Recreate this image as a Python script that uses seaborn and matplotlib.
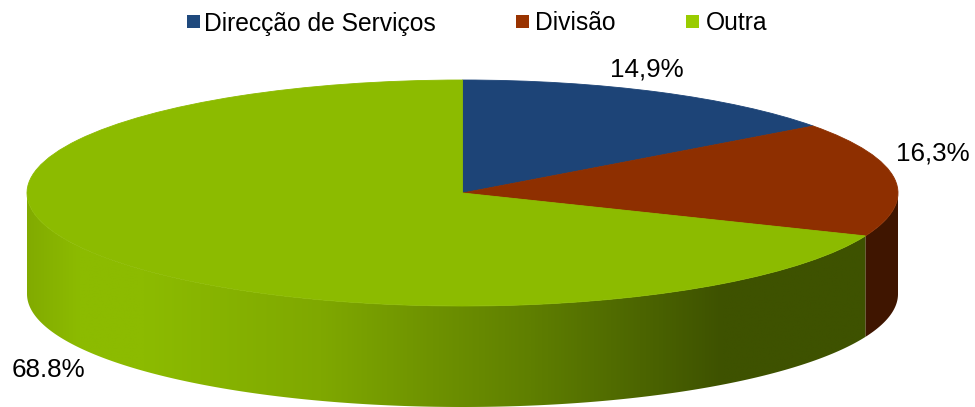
"""3D-looking pie chart: share of posts by type."""

import numpy as np
import matplotlib
matplotlib.use('Agg')
import matplotlib.pyplot as plt
from matplotlib.colors import LinearSegmentedColormap
from matplotlib.patches import Polygon, Rectangle
import seaborn as sns

# data
categories = ['Direcção de Serviços', 'Divisão', 'Outra']
shares = [14.9, 16.3, 68.8]
share_labels = ['14,9%', '16,3%', '68.8%']

# colours
top_colors = ['#1d4477', '#8e2f00', '#8cbb00']
legend_colors = ['#1f497d', '#993300', '#99cc00']
red_wall = '#3f1500'
green_wall = [(0.0, '#82ab00'), (0.06, '#8cbb00'), (0.14, '#8cbb00'),
              (0.35, '#7fa800'), (0.60, '#5f7f00'), (0.83, '#3e5200'), (1.0, '#3e5200')]

W, H = 975, 407
cx, cy, rx, ry, depth = 462.5, 193, 435.5, 113, 101

sns.set_theme(style='white')
plt.rcParams['font.family'] = ['Liberation Sans', 'DejaVu Sans']

fig = plt.figure(figsize=(W / 100, H / 100), dpi=100)
ax = fig.add_axes([0, 0, 1, 1])
ax.axis('off')

# top face
wedges, _ = ax.pie(shares, colors=sns.color_palette(top_colors), startangle=90, counterclock=False,
                   radius=1, wedgeprops={'linewidth': 0.6, 'zorder': 5})
for w in wedges:
    w.set_edgecolor(w.get_facecolor())

# side walls, only the part of the rim facing the viewer (90..270 clockwise from top)
d = depth / ry
edges = np.cumsum([0] + shares) * 3.6


def wall(a, b):
    t = np.radians(np.linspace(a, b, 200))
    x, y = np.sin(t), np.cos(t)
    return np.column_stack([np.r_[x, x[::-1]], np.r_[y, y[::-1] - d]])


red_part = Polygon(wall(max(edges[1], 90), edges[2]), closed=True, fc=red_wall, lw=0, zorder=3)
ax.add_patch(red_part)

green_part = Polygon(wall(edges[2], 270), closed=True, fc='none', lw=0)
ax.add_patch(green_part)
cmap = LinearSegmentedColormap.from_list('wall', green_wall)
x_left, x_right = -1, np.sin(np.radians(edges[2]))
im = ax.imshow(np.linspace(0, 1, 512).reshape(1, -1), cmap=cmap, aspect='auto',
               extent=(x_left, x_right, -1 - d, 0), zorder=3, interpolation='bilinear')
im.set_clip_path(green_part)

# squash the circle into the ellipse
ax.set_aspect('auto')
ax.set_xlim(-cx / rx, (W - cx) / rx)
ax.set_ylim((cy - H) / ry, cy / ry)

# labels
label_pos = [(646.5, 69), (932.5, 154), (48, 370)]
for txt, (px, py) in zip(share_labels, label_pos):
    fig.text(px / W, 1 - py / H, txt, ha='center', va='center', fontsize=18.7, color='black')

# legend, entries are not evenly spaced so placed one by one
box_x = [187, 516, 686]
text_x = [204, 535, 706]
for name, color, bx, tx in zip(categories, legend_colors, box_x, text_x):
    fig.add_artist(Rectangle((bx / W, 1 - 28 / H), 13 / W, 13 / H, fc=color, lw=0,
                             transform=fig.transFigure))
    fig.text(tx / W, 1 - 30.5 / H, name, ha='left', va='baseline', fontsize=17.7, color='black')

fig.savefig('out.png', dpi=100)
